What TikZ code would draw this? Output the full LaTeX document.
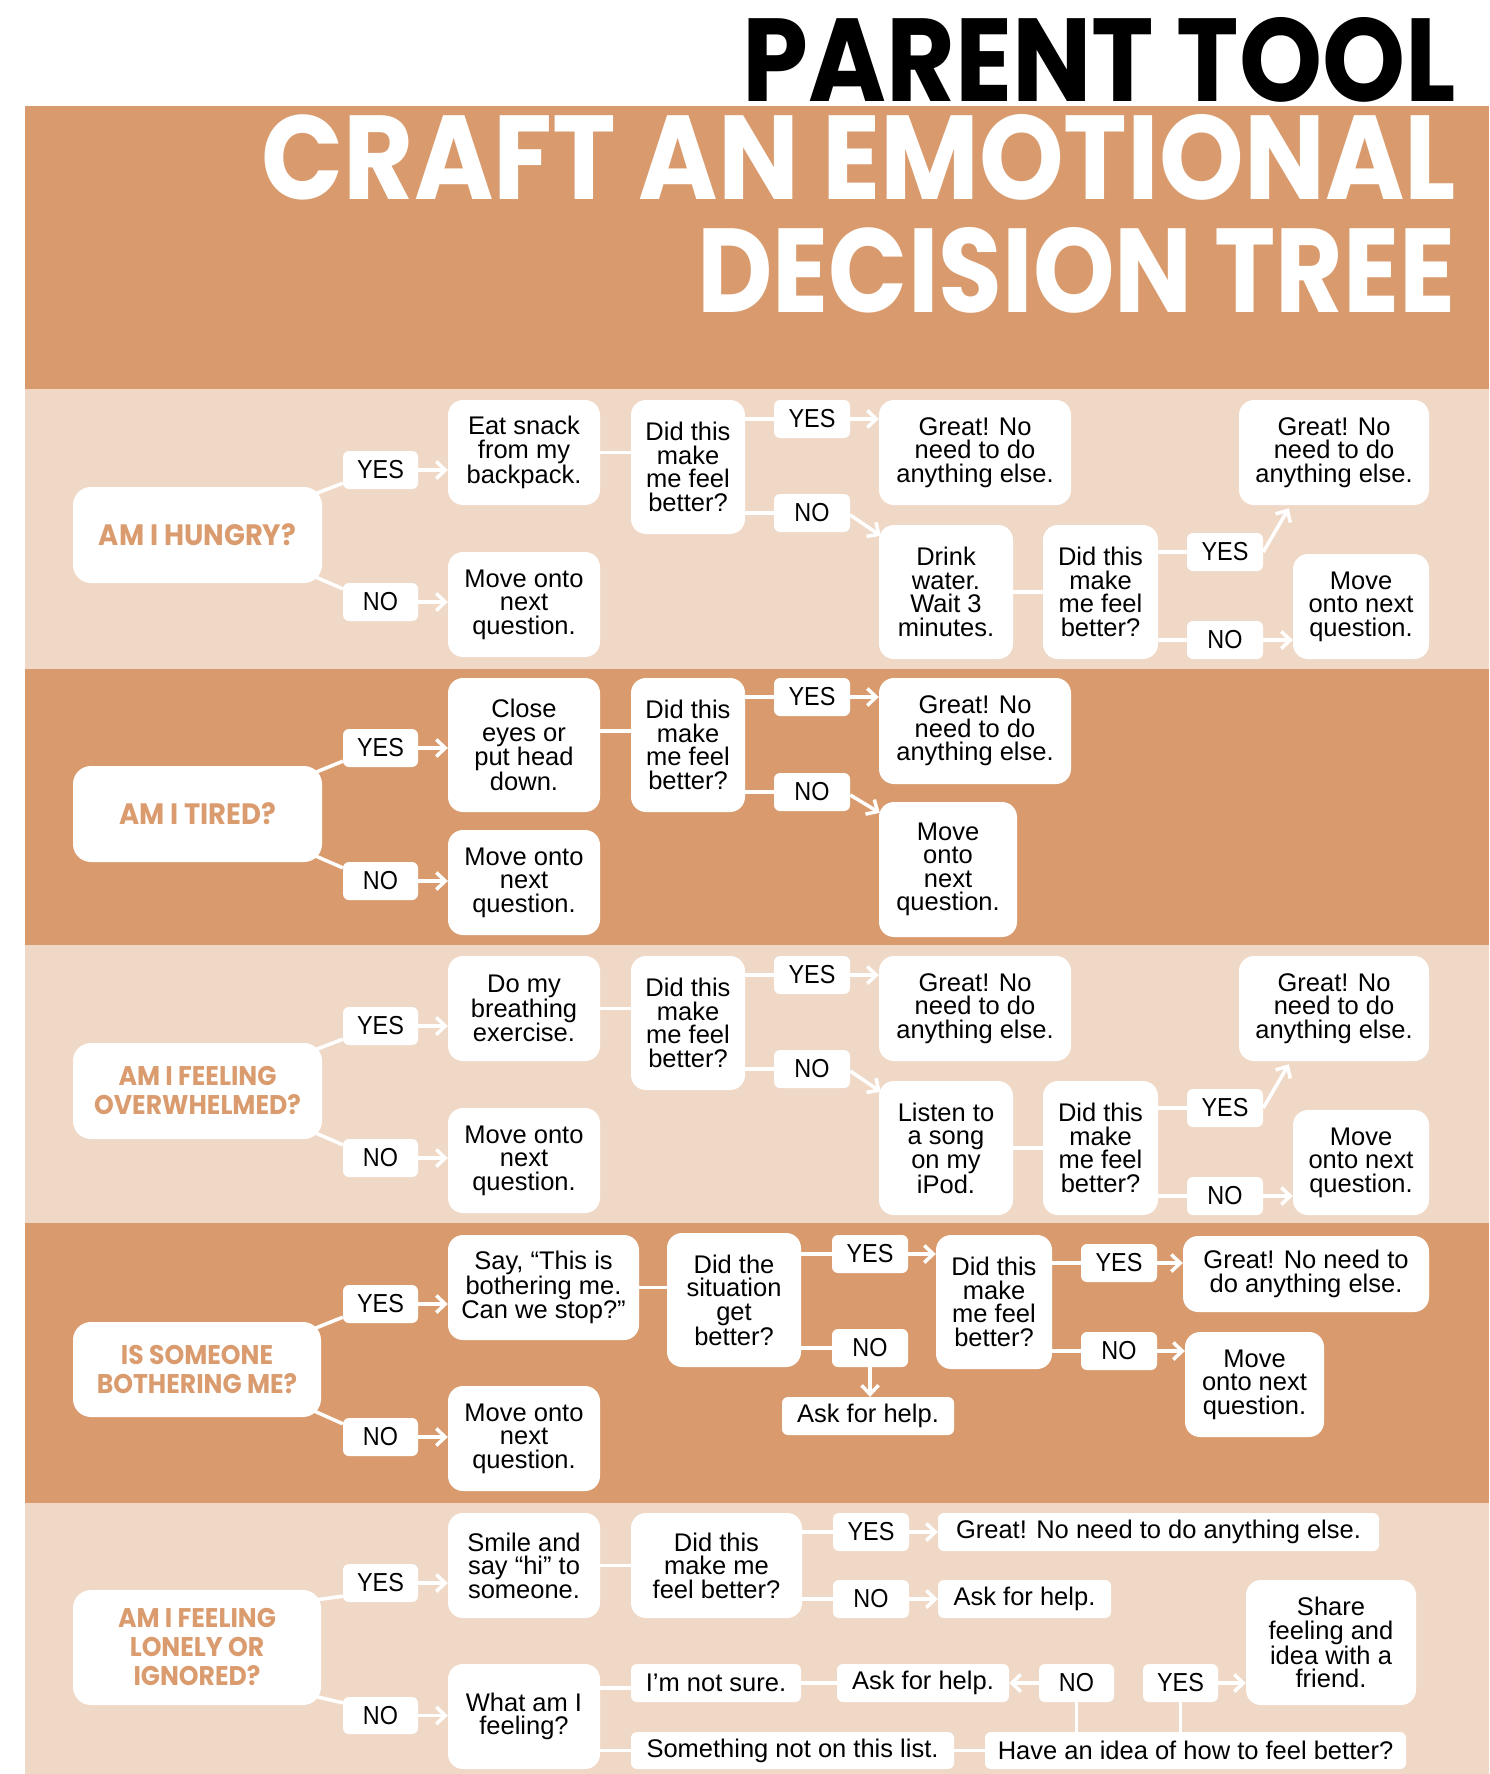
\documentclass[tikz,border=0pt]{standalone}
\usepackage{fontspec}
\usepackage{graphicx}
\setmainfont{Liberation Sans}
\newfontfamily\qfont{Poppins}[FakeStretch=0.93]
\newfontfamily\tfont{Poppins}
\newfontfamily\tagfont{Liberation Sans}[FakeStretch=0.9]
\usetikzlibrary{arrows.meta,calc,backgrounds}
\definecolor{darkband}{RGB}{217,155,110}
\definecolor{lightband}{RGB}{240,216,198}
\definecolor{qcol}{RGB}{218,156,110}
\newcommand\bx[7]{\node[#1, minimum width={(#5)-(#3)}, minimum height={(#6)-(#4)}] (#2) at ({((#3)+(#5))/2},{((#4)+(#6))/2}) {#7};}
\tikzset{
  wbox/.style={fill=white, rounded corners=15pt, inner xsep=2pt, inner ysep=0pt, align=center, text=black, font=\fontsize{25.5}{23.5}\selectfont},
  wone/.style={wbox, rounded corners=6pt},
  lbl/.style={fill=white, rounded corners=6pt, inner sep=0pt, text=black, font=\tagfont\fontsize{26}{26}\selectfont},
  qbox/.style={wbox, rounded corners=18pt, text=qcol, font=\qfont\bfseries\fontsize{29.5}{30}\selectfont},
  qboxb/.style={wbox, rounded corners=18pt, text=qcol, font=\qfont\bfseries\fontsize{27}{29}\selectfont},
  cline/.style={draw=white, line width=3.5pt},
  carr/.style={draw=white, line width=3.5pt, -{Straight Barb[length=9pt,width=17pt,line width=3.5pt]}}
}
\begin{document}
\begin{tikzpicture}[x=1pt,y=-1pt]
\useasboundingbox (0,0) rectangle (1489,1774);
\begin{pgfonlayer}{background}
\fill[white] (0,0) rectangle (1489,1774);
\fill[darkband] (25,106) rectangle (1489,389);
\fill[lightband] (25,389) rectangle (1489,669);
\fill[darkband] (25,669) rectangle (1489,945);
\fill[lightband] (25,945) rectangle (1489,1223);
\fill[darkband] (25,1223) rectangle (1489,1503);
\fill[lightband] (25,1503) rectangle (1489,1774);
\end{pgfonlayer}

% titles
\node[anchor=north east, inner sep=0pt] (t1) at (1456,17) {\resizebox{713pt}{84pt}{\tfont\bfseries PARENT TOOL}};
\node[anchor=north east, inner sep=0pt, text=white] (t2) at (1456,114) {\resizebox{1193pt}{85pt}{\tfont\bfseries CRAFT AN EMOTIONAL}};
\node[anchor=north east, inner sep=0pt, text=white] (t3) at (1456,227) {\resizebox{758pt}{85pt}{\tfont\bfseries DECISION TREE}};

% ---------- band 1
\bx{qbox}{q1}{73}{487}{322}{583}{AM I HUNGRY?}
\bx{lbl}{y1a}{343}{451}{418}{489}{YES}
\bx{lbl}{n1a}{343}{583}{418}{621}{NO}
\bx{wbox}{e1}{448}{400}{600}{505}{Eat snack\\from my\\backpack.}
\bx{wbox}{m1}{448}{552}{600}{657}{Move onto\\next\\question.}
\bx{wbox}{d1}{631}{400}{745}{534}{Did this\\make\\me feel\\better?}
\bx{lbl}{y1b}{774}{400}{850}{438}{YES}
\bx{lbl}{n1b}{774}{494}{850}{532}{NO}
\bx{wbox}{g1}{879}{400}{1071}{505}{Great! No\\need to do\\anything else.}
\bx{wbox}{w1}{879}{525}{1013}{659}{Drink\\water.\\Wait 3\\minutes.}
\bx{wbox}{d1b}{1043}{525}{1158}{659}{Did this\\make\\me feel\\better?}
\bx{lbl}{y1c}{1187}{533}{1263}{571}{YES}
\bx{lbl}{n1c}{1187}{621}{1263}{659}{NO}
\bx{wbox}{g1b}{1239}{400}{1429}{505}{Great! No\\need to do\\anything else.}
\bx{wbox}{m1b}{1293}{554}{1429}{659}{Move\\onto next\\question.}

% ---------- band 2
\bx{qbox}{q2}{73}{766}{322}{862}{AM I TIRED?}
\bx{lbl}{y2a}{343}{729}{418}{767}{YES}
\bx{lbl}{n2a}{343}{862}{418}{900}{NO}
\bx{wbox}{e2}{448}{678}{600}{812}{Close\\eyes or\\put head\\down.}
\bx{wbox}{m2}{448}{830}{600}{935}{Move onto\\next\\question.}
\bx{wbox}{d2}{631}{678}{745}{812}{Did this\\make\\me feel\\better?}
\bx{lbl}{y2b}{774}{678}{850}{716}{YES}
\bx{lbl}{n2b}{774}{773}{850}{811}{NO}
\bx{wbox}{g2}{879}{678}{1071}{784}{Great! No\\need to do\\anything else.}
\bx{wbox}{m2b}{879}{802}{1017}{937}{Move\\onto\\next\\question.}

% ---------- band 3
\bx{qboxb}{q3}{73}{1043}{322}{1139}{AM I FEELING\\OVERWHELMED?}
\bx{lbl}{y3a}{343}{1007}{418}{1045}{YES}
\bx{lbl}{n3a}{343}{1139}{418}{1177}{NO}
\bx{wbox}{e3}{448}{956}{600}{1061}{Do my\\breathing\\exercise.}
\bx{wbox}{m3}{448}{1108}{600}{1213}{Move onto\\next\\question.}
\bx{wbox}{d3}{631}{956}{745}{1090}{Did this\\make\\me feel\\better?}
\bx{lbl}{y3b}{774}{956}{850}{994}{YES}
\bx{lbl}{n3b}{774}{1050}{850}{1088}{NO}
\bx{wbox}{g3}{879}{956}{1071}{1061}{Great! No\\need to do\\anything else.}
\bx{wbox}{w3}{879}{1081}{1013}{1215}{Listen to\\a song\\on my\\iPod.}
\bx{wbox}{d3b}{1043}{1081}{1158}{1215}{Did this\\make\\me feel\\better?}
\bx{lbl}{y3c}{1187}{1089}{1263}{1127}{YES}
\bx{lbl}{n3c}{1187}{1177}{1263}{1215}{NO}
\bx{wbox}{g3b}{1239}{956}{1429}{1061}{Great! No\\need to do\\anything else.}
\bx{wbox}{m3b}{1293}{1110}{1429}{1215}{Move\\onto next\\question.}

% ---------- band 4
\bx{qboxb}{q4}{73}{1322}{321}{1417}{IS SOMEONE\\BOTHERING ME?}
\bx{lbl}{y4a}{343}{1285}{418}{1323}{YES}
\bx{lbl}{n4a}{343}{1418}{418}{1456}{NO}
\bx{wbox}{e4}{448}{1235}{639}{1340}{Say, “This is\\bothering me.\\Can we stop?”}
\bx{wbox}{m4}{448}{1386}{600}{1491}{Move onto\\next\\question.}
\bx{wbox}{s4}{667}{1233}{801}{1367}{Did the\\situation\\get\\better?}
\bx{lbl}{y4b}{832}{1235}{908}{1273}{YES}
\bx{lbl}{n4b}{832}{1329}{908}{1367}{NO}
\bx{wone}{k4}{782}{1397}{954}{1435}{Ask for help.}
\bx{wbox}{d4}{936}{1235}{1052}{1369}{Did this\\make\\me feel\\better?}
\bx{lbl}{y4c}{1081}{1244}{1157}{1282}{YES}
\bx{lbl}{n4c}{1081}{1332}{1157}{1370}{NO}
\bx{wbox}{g4}{1183}{1236}{1429}{1312}{Great! No need to\\do anything else.}
\bx{wbox}{m4b}{1185}{1332}{1324}{1437}{Move\\onto next\\question.}

% ---------- band 5
\bx{qboxb}{q5}{73}{1590}{321}{1705}{AM I FEELING\\LONELY OR\\IGNORED?}
\bx{lbl}{y5a}{343}{1564}{418}{1602}{YES}
\bx{lbl}{n5a}{343}{1697}{418}{1734}{NO}
\bx{wbox}{e5}{448}{1513}{600}{1618}{Smile and\\say “hi” to\\someone.}
\bx{wbox}{w5}{448}{1664}{600}{1769}{What am I\\feeling?}
\bx{wbox}{d5}{631}{1513}{802}{1618}{Did this\\make me\\feel better?}
\bx{lbl}{y5b}{833}{1513}{909}{1551}{YES}
\bx{lbl}{n5b}{833}{1580}{909}{1618}{NO}
\bx{wone}{g5}{938}{1513}{1379}{1551}{Great! No need to do anything else.}
\bx{wone}{k5}{938}{1580}{1111}{1618}{Ask for help.}
\bx{wone}{ns5}{631}{1664}{801}{1702}{I'm not sure.}
\bx{wone}{sm5}{631}{1732}{954}{1769}{Something not on this list.}
\bx{wone}{k5b}{837}{1664}{1009}{1702}{Ask for help.}
\bx{lbl}{n5c}{1039}{1664}{1114}{1702}{NO}
\bx{lbl}{y5c}{1143}{1664}{1218}{1702}{YES}
\bx{wbox}{sh5}{1246}{1580}{1416}{1705}{Share\\feeling and\\idea with a\\friend.}
\bx{wone}{hv5}{985}{1732}{1406}{1769}{Have an idea of how to feel better?}

% ---------- plain lines (behind boxes)
\begin{pgfonlayer}{background}
\foreach \q/\y/\n in {q1/y1a/n1a, q2/y2a/n2a, q3/y3a/n3a, q4/y4a/n4a, q5/y5a/n5a}{
  \draw[cline] ($(\q.north east)+(-20,12)$) -- ($(\y.south west)+(0,-6)$);
  \draw[cline] ($(\q.south east)+(-20,-12)$) -- ($(\n.north west)+(0,6)$);
}
% band 1
\draw[cline] (e1.east) -- (e1.east -| d1.west);
\draw[cline] (y1b.west -| d1.east) -- (y1b.west);
\draw[cline] (n1b.west -| d1.east) -- (n1b.west);
\draw[cline] (w1.east) -- (w1.east -| d1b.west);
\draw[cline] (y1c.west -| d1b.east) -- (y1c.west);
\draw[cline] (n1c.west -| d1b.east) -- (n1c.west);
% band 2
\draw[cline] ($(e2.east)+(0,-14)$) -- ($(e2.east -| d2.west)+(0,-14)$);
\draw[cline] (y2b.west -| d2.east) -- (y2b.west);
\draw[cline] (n2b.west -| d2.east) -- (n2b.west);
% band 3
\draw[cline] (e3.east) -- (e3.east -| d3.west);
\draw[cline] (y3b.west -| d3.east) -- (y3b.west);
\draw[cline] (n3b.west -| d3.east) -- (n3b.west);
\draw[cline] (w3.east) -- (w3.east -| d3b.west);
\draw[cline] (y3c.west -| d3b.east) -- (y3c.west);
\draw[cline] (n3c.west -| d3b.east) -- (n3c.west);
% band 4
\draw[cline] (e4.east) -- (e4.east -| s4.west);
\draw[cline] (y4b.west -| s4.east) -- (y4b.west);
\draw[cline] (n4b.west -| s4.east) -- (n4b.west);
\draw[cline] (y4c.west -| d4.east) -- (y4c.west);
\draw[cline] (n4c.west -| d4.east) -- (n4c.west);
% band 5
\draw[cline] (e5.east) -- (e5.east -| d5.west);
\draw[cline] (y5b.west -| d5.east) -- (y5b.west);
\draw[cline] (n5b.west -| d5.east) -- (n5b.west);
\draw[cline] ($(w5.east |- ns5.west)+(0,5)$) -- ($(ns5.west)+(0,5)$);
\draw[cline] (w5.east |- sm5.west) -- (sm5.west);
\draw[cline] (ns5.east) -- (ns5.east -| k5b.west);
\draw[cline] (sm5.east) -- (sm5.east -| hv5.west);
\draw[cline] (n5c.south) -- (n5c.south |- hv5.north);
\draw[cline] (y5c.south) -- (y5c.south |- hv5.north);
\end{pgfonlayer}

% ---------- arrows
\foreach \y/\n/\a/\m in {y1a/n1a/e1/m1, y2a/n2a/e2/m2, y3a/n3a/e3/m3, y4a/n4a/e4/m4, y5a/n5a/e5/w5}{
  \draw[carr] (\y.east) -- (\y.east -| \a.west);
  \draw[carr] (\n.east) -- (\n.east -| \m.west);
}
\draw[carr] (y1b.east) -- (y1b.east -| g1.west);
\draw[carr] ($(n1b.east)+(0,2)$) -- ($(w1.north west)+(2,11)$);
\draw[carr] (y1c.east) -- ($(g1b.south west)+(50,3)$);
\draw[carr] (n1c.east) -- (n1c.east -| m1b.west);

\draw[carr] (y2b.east) -- (y2b.east -| g2.west);
\draw[carr] ($(n2b.east)+(0,3)$) -- ($(m2b.north west)+(1,11)$);

\draw[carr] (y3b.east) -- (y3b.east -| g3.west);
\draw[carr] ($(n3b.east)+(0,2)$) -- ($(w3.north west)+(2,11)$);
\draw[carr] (y3c.east) -- ($(g3b.south west)+(50,3)$);
\draw[carr] (n3c.east) -- (n3c.east -| m3b.west);

\draw[carr] (y4b.east) -- (y4b.east -| d4.west);
\draw[carr] (n4b.south) -- (n4b.south |- k4.north);
\draw[carr] (y4c.east) -- (y4c.east -| g4.west);
\draw[carr] (n4c.east) -- (n4c.east -| m4b.west);

\draw[carr] (y5b.east) -- (y5b.east -| g5.west);
\draw[carr] (n5b.east) -- (n5b.east -| k5.west);
\draw[carr] (n5c.west) -- (n5c.west -| k5b.east);
\draw[carr] (y5c.east) -- (y5c.east -| sh5.west);
\end{tikzpicture}
\end{document}
